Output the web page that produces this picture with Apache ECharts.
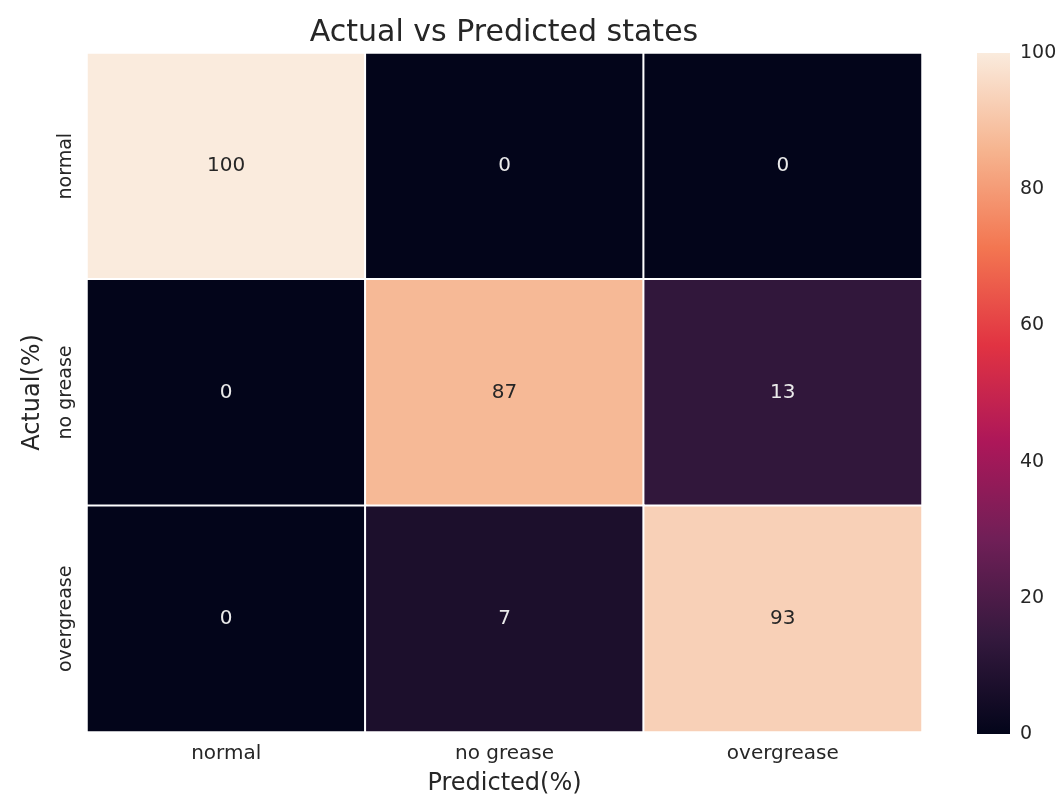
<!DOCTYPE html>
<html>
<head>
<meta charset="utf-8">
<script src="https://cdn.jsdelivr.net/npm/echarts@6/dist/echarts.min.js"></script>
<style>
  html, body { margin: 0; padding: 0; background: #fff; }
  #chart { width: 1059px; height: 796px; }
</style>
</head>
<body>
<div id="chart"></div>
<script>
// Confusion matrix of grease states, in percent
const predictedLabels = ['normal', 'no grease', 'overgrease'];
const actualLabels = ['normal', 'no grease', 'overgrease'];
const rowNormal = [100, 0, 0];
const rowNoGrease = [0, 87, 13];
const rowOvergrease = [0, 7, 93];
const colorbarTicks = [0, 20, 40, 60, 80, 100];

// "rocket" style colormap stops (position, colour)
const rocketStops = [
  [0.000, '#03051a'],
  [0.143, '#35193e'],
  [0.286, '#701f57'],
  [0.429, '#ad1759'],
  [0.571, '#e13342'],
  [0.714, '#f37651'],
  [0.857, '#f6b48f'],
  [1.000, '#faebdd']
];

const rows = [rowNormal, rowNoGrease, rowOvergrease];
const cells = [];
rows.forEach((row, r) => row.forEach((v, c) => cells.push([c, r, v])));

const FONT = "'DejaVu Sans', sans-serif";
const TEXT = '#262626';
const chart = echarts.init(document.getElementById('chart'));

chart.setOption({
  backgroundColor: '#ffffff',
  animation: false,
  textStyle: { fontFamily: FONT },
  title: {
    text: 'Actual vs Predicted states',
    left: 499, top: 13, textAlign: 'center',
    textStyle: { fontFamily: FONT, fontSize: 30, fontWeight: 'normal', color: TEXT }
  },
  grid: [
    { left: 87, right: 137, top: 53, bottom: 64, outerBoundsMode: 'none', containLabel: false },
    {
      left: 977, width: 33, top: 53, bottom: 62, show: true, borderWidth: 0,
      outerBoundsMode: 'none', containLabel: false,
      backgroundColor: {
        type: 'linear', x: 0, y: 1, x2: 0, y2: 0,
        colorStops: rocketStops.map(s => ({ offset: s[0], color: s[1] }))
      }
    }
  ],
  xAxis: [
    {
      type: 'category', gridIndex: 0, data: predictedLabels,
      axisLine: { show: false }, axisTick: { show: false }, splitLine: { show: false },
      axisLabel: { fontFamily: FONT, fontSize: 20, color: TEXT, margin: 12 },
      name: 'Predicted(%)', nameLocation: 'middle', nameGap: 40,
      nameTextStyle: { fontFamily: FONT, fontSize: 24, color: TEXT }
    },
    {
      type: 'value', gridIndex: 1, show: false, min: 0, max: 1
    }
  ],
  yAxis: [
    {
      type: 'category', gridIndex: 0, data: actualLabels, inverse: true,
      axisLine: { show: false }, axisTick: { show: false }, splitLine: { show: false },
      axisLabel: { fontFamily: FONT, fontSize: 19, color: TEXT, rotate: 90, margin: 11 },
      name: 'Actual(%)', nameLocation: 'middle', nameGap: 42, nameRotate: 90,
      nameTextStyle: { fontFamily: FONT, fontSize: 24, color: TEXT }
    },
    {
      type: 'value', gridIndex: 1, position: 'right', min: colorbarTicks[0],
      max: colorbarTicks[colorbarTicks.length - 1], interval: 20,
      axisLine: { show: false }, axisTick: { show: false }, splitLine: { show: false },
      axisLabel: { fontFamily: FONT, fontSize: 19, color: TEXT, margin: 10 }
    }
  ],
  visualMap: {
    show: false, type: 'continuous', min: 0, max: 100, seriesIndex: 0,
    inRange: {
      color: rocketStops.map(s => s[1])
    }
  },
  series: [
    {
      type: 'heatmap', xAxisIndex: 0, yAxisIndex: 0,
      // Annotation colour: dark text on light cells, light text on dark cells
      data: cells.map(d => ({
        value: d,
        label: { color: d[2] > 50 ? TEXT : '#eaeaea' }
      })),
      itemStyle: { borderColor: '#ffffff', borderWidth: 2 },
      label: {
        show: true, fontFamily: FONT, fontSize: 20,
        formatter: p => String(p.value[2])
      }
    }
  ]
});
</script>
</body>
</html>
